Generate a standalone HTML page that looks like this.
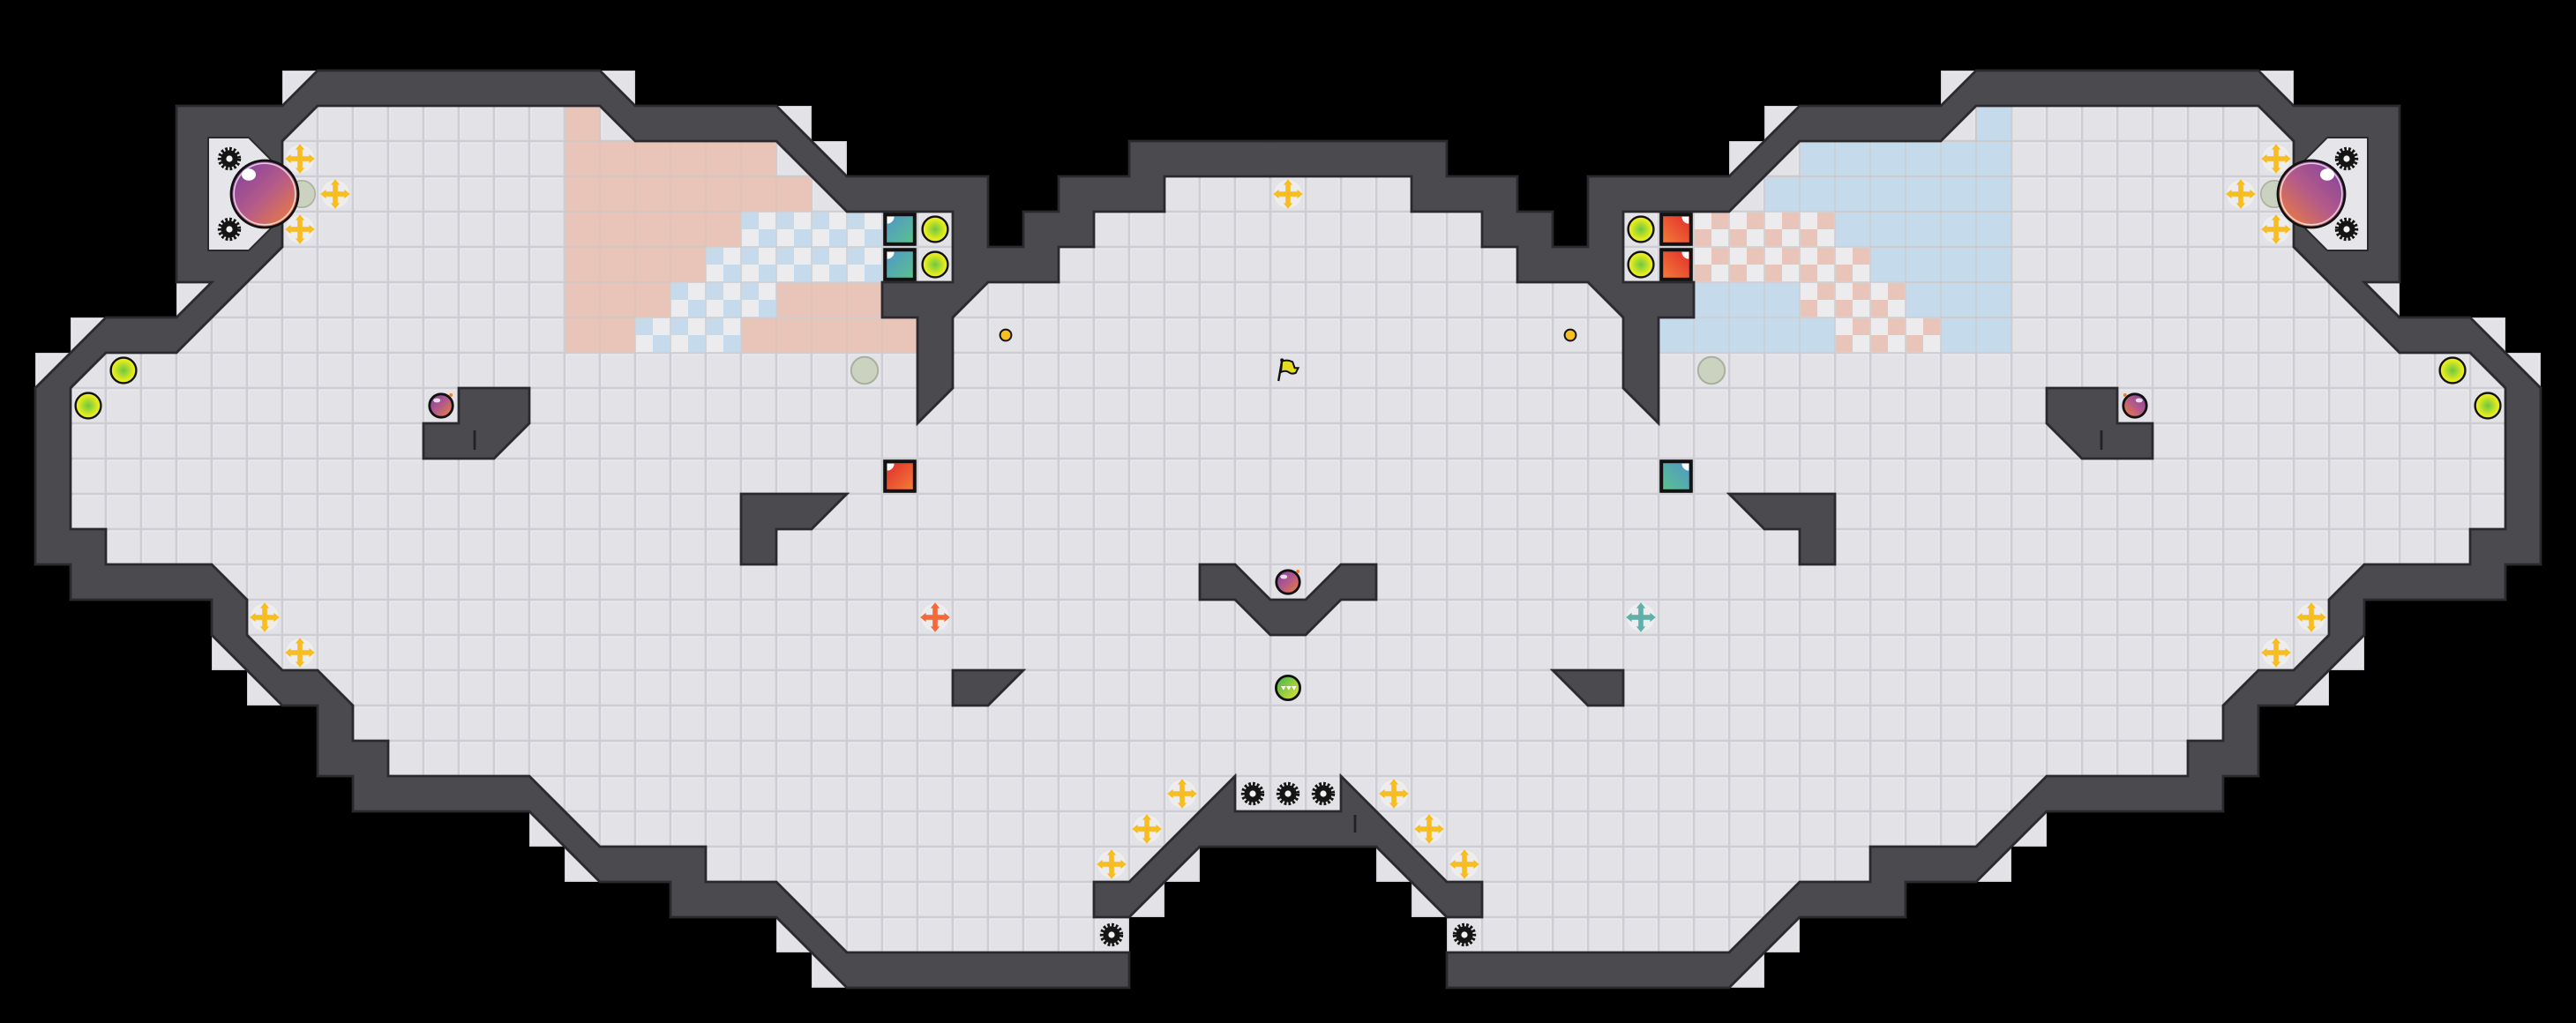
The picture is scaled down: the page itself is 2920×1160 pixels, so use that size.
<!DOCTYPE html>
<html><head><meta charset="utf-8">
<style>
html,body{margin:0;padding:0;background:#000;}
svg{display:block;}
.pk{fill:var(--pk);}
.bl{fill:var(--bl);}
.cA{fill:var(--cA);}
.cB{fill:var(--cB);}
.xc{color:var(--xc);}
</style></head>
<body>
<svg xmlns="http://www.w3.org/2000/svg" xmlns:xlink="http://www.w3.org/1999/xlink" width="2920" height="1160" viewBox="0 0 73 29">
<defs>
  <pattern id="grid" patternUnits="userSpaceOnUse" width="1" height="1">
    <rect width="1" height="1" fill="#cdcdd3"/>
    <rect x=".035" y=".035" width=".93" height=".93" fill="#f0f0f3"/>
    <rect x=".06" y=".06" width=".9" height=".9" fill="#e3e3e7"/>
  </pattern>
  <linearGradient id="gBall" x1="0" y1="0" x2="1" y2="1">
    <stop offset="0" stop-color="#7a3fa0"/><stop offset=".5" stop-color="#b45a8a"/><stop offset="1" stop-color="#f58230"/>
  </linearGradient>
  <radialGradient id="gYel" cx=".5" cy=".5" r=".5">
    <stop offset="0" stop-color="#6cc840"/><stop offset=".8" stop-color="#e6ec1e"/>
  </radialGradient>
  <linearGradient id="gTeal" x1="0" y1="0" x2="1" y2="1">
    <stop offset="0" stop-color="#4f94cc"/><stop offset="1" stop-color="#5cc48a"/>
  </linearGradient>
  <linearGradient id="gRed" x1="0" y1="0" x2="1" y2="1">
    <stop offset="0" stop-color="#e02a2a"/><stop offset="1" stop-color="#f5803a"/>
  </linearGradient>
  <linearGradient id="gGreen" x1="0" y1="0" x2="1" y2="1">
    <stop offset="0" stop-color="#3cb050"/><stop offset="1" stop-color="#e8e830"/>
  </linearGradient>
  <g id="gear">
    <circle r=".27" fill="none" stroke="#151515" stroke-width=".12" stroke-dasharray=".065 .05"/>
    <circle r=".24" fill="#151515"/>
    <circle r=".09" fill="#f2f2f2"/>
  </g>
  <g id="cross">
    <circle r=".4" fill="#ffffff" opacity=".35"/>
    <rect x="-.07" y="-.3" width=".14" height=".6" fill="currentColor"/>
    <rect x="-.3" y="-.07" width=".6" height=".14" fill="currentColor"/>
    <polygon points="0,-.42 -.13,-.26 .13,-.26" fill="currentColor"/>
    <polygon points="0,.42 -.13,.26 .13,.26" fill="currentColor"/>
    <polygon points="-.42,0 -.26,-.13 -.26,.13" fill="currentColor"/>
    <polygon points=".42,0 .26,-.13 .26,.13" fill="currentColor"/>
  </g>
  <g id="chk">
    <rect x=".02" y=".02" width=".96" height=".96" fill="#ececee"/>
    <rect class="bl" x=".02" y=".02" width=".48" height=".48"/>
    <rect class="bl" x=".5" y=".5" width=".48" height=".48"/>
  </g>
  <g id="ybal">
    <circle r=".36" fill="url(#gYel)" stroke="#111" stroke-width=".06"/>
  </g>
  <g id="bomb">
    <circle r=".33" fill="url(#gBall)" stroke="#111" stroke-width=".07"/>
    <ellipse cx="-.12" cy="-.15" rx=".1" ry=".06" fill="#fff" opacity=".8"/>
    <circle cx=".28" cy="-.3" r=".05" fill="#f08020"/>
  </g>
</defs>

<rect width="73" height="29" fill="#000"/>

<g style="--pk:#e8c5b8;--bl:#c5dbeb;--cA:url(#gTeal);--cB:url(#gRed);--xc:#f26a3a">
<g id="L">
  <polygon fill="url(#grid)" points="37,4 32,4 32,5 30,5 30,6 29,6 29,7 28,7 28,5 24,5 24,4 23,4 23,3 22,3 18,3 18,2 8,2 8,3 5,3 5,9 3,9 2,9 2,10 1,10 1,16 2,16 2,17 6,17 6,19 7,19 7,20 9,20 9,22 10,22 10,23 15,23 15,24 16,24 16,25 19,25 19,26 22,26 22,27 23,27 23,28 32,28 32,26 33,26 33,25 34,25 34,24 37,24"/>
  <g>
    <rect class="pk" x="16.02" y="3.02" width=".96" height=".96"/>
    <rect class="pk" x="16.02" y="4.02" width="5.96" height=".96"/>
    <rect class="pk" x="16.02" y="5.02" width="6.96" height=".96"/>
    <rect class="pk" x="16.02" y="6.02" width="4.96" height=".96"/>
    <rect class="pk" x="16.02" y="7.02" width="3.96" height=".96"/>
    <rect class="pk" x="16.02" y="8.02" width="2.96" height=".96"/>
    <rect class="pk" x="22.02" y="8.02" width="2.96" height=".96"/>
    <rect class="pk" x="16.02" y="9.02" width="1.96" height=".96"/>
    <rect class="pk" x="21.02" y="9.02" width="4.96" height=".96"/>
  </g>
  <g stroke="#d6c0b8" stroke-width=".03" fill="none" opacity=".6">
    <path d="M17,3V10 M18,4V9 M19,4V8 M20,4V7 M21,4V6 M22,5V6 M16,4H22 M16,5H23 M16,6H21 M16,7H20 M16,8H19 M16,9H18 M23,8V9 M24,8V9 M22,9V10 M23,9V10 M24,9V10 M25,9V10"/>
  </g>
  <use href="#chk" x="21" y="6"/><use href="#chk" x="22" y="6"/><use href="#chk" x="23" y="6"/><use href="#chk" x="24" y="6"/>
  <use href="#chk" x="20" y="7"/><use href="#chk" x="21" y="7"/><use href="#chk" x="22" y="7"/><use href="#chk" x="23" y="7"/><use href="#chk" x="24" y="7"/>
  <use href="#chk" x="19" y="8"/><use href="#chk" x="20" y="8"/><use href="#chk" x="21" y="8"/>
  <use href="#chk" x="18" y="9"/><use href="#chk" x="19" y="9"/><use href="#chk" x="20" y="9"/>

  <polygon fill="#4a4a4f" stroke="#2a2a2e" stroke-width=".07" stroke-linejoin="miter" points="32,28 24,28 22,26 19,26 19,25 17,25 15,23 10,23 10,22 9,22 9,20 8,20 6,18 6,17 2,17 2,16 1,16 1,11 3,9 5,9 6,8 5,8 5,3 8,3 9,2 17,2 18,3 22,3 24,5 28,5 28,7 29,7 29,6 30,6 30,5 32,5 32,4 37,4 37,5 33,5 33,6 31,6 31,7 30,7 30,8 28,8 27,9 27,11 26,12 26,9 25,9 25,8 27,8 27,6 24,6 22,4 18,4 17,3 9,3 8,4 8,7 5,10 3,10 2,11 2,15 3,15 3,16 6,16 7,17 7,18 8,19 9,19 10,20 10,21 11,21 11,22 15,22 17,24 20,24 20,25 22,25 24,27 32,27"/>
  <polygon fill="#e6e6ea" stroke="#2a2a2e" stroke-width=".05" points="5.9,3.9 7.05,3.9 7.75,4.6 7.75,6.4 7.05,7.1 5.9,7.1"/>
  <polygon fill="#4a4a4f" stroke="#2a2a2e" stroke-width=".07" points="13,11 15,11 15,12 14,13 12,13 12,12 13,12"/>
  <line x1="13.45" y1="12.2" x2="13.45" y2="12.75" stroke="#222" stroke-width=".07"/>
  <polygon fill="#4a4a4f" stroke="#2a2a2e" stroke-width=".07" points="21,14 24,14 23,15 22,15 22,16 21,16"/>
  <polygon fill="#4a4a4f" stroke="#2a2a2e" stroke-width=".07" points="27,19 29,19 28,20 27,20"/>

  <use href="#gear" x="6.5" y="4.5"/>
  <use href="#gear" x="6.5" y="6.5"/>
  <circle cx="8.55" cy="5.5" r=".38" fill="#cbd2bf" stroke="#aab09f" stroke-width=".04"/>
  <circle cx="7.5" cy="5.5" r=".95" fill="url(#gBall)" stroke="#111" stroke-width=".07"/>
  <circle cx="7.5" cy="5.5" r=".87" fill="none" stroke="#fff" stroke-width=".04" opacity=".7"/>
  <ellipse cx="7.05" cy="4.95" rx=".2" ry=".17" fill="#fff"/>
  <use href="#cross" x="8.5" y="4.5" style="color:#f7bd22"/>
  <use href="#cross" x="9.5" y="5.5" style="color:#f7bd22"/>
  <use href="#cross" x="8.5" y="6.5" style="color:#f7bd22"/>
  <use href="#ybal" x="3.5" y="10.5"/>
  <use href="#ybal" x="2.5" y="11.5"/>
  <use href="#bomb" x="12.5" y="11.5"/>
  <rect class="cA" x="25.08" y="6.08" width=".84" height=".84" stroke="#111" stroke-width=".1"/>
  <rect class="cA" x="25.08" y="7.08" width=".84" height=".84" stroke="#111" stroke-width=".1"/>
  <path d="M25.14,6.14h.2a.2.2 0 0 1 -.2,.2z M25.14,7.14h.2a.2.2 0 0 1 -.2,.2z" fill="#fff"/>
  <use href="#ybal" x="26.5" y="6.5"/>
  <use href="#ybal" x="26.5" y="7.5"/>
  <rect class="cB" x="25.08" y="13.08" width=".84" height=".84" stroke="#111" stroke-width=".1"/>
  <path d="M25.14,13.14h.2a.2.2 0 0 1 -.2,.2z" fill="#fff"/>
  <circle cx="24.5" cy="10.5" r=".38" fill="#cbd2bf" stroke="#aab09f" stroke-width=".05"/>
  <circle cx="28.5" cy="9.5" r=".16" fill="#f7c020" stroke="#111" stroke-width=".05"/>
  <use href="#cross" x="7.5" y="17.5" style="color:#f7bd22"/>
  <use href="#cross" x="8.5" y="18.5" style="color:#f7bd22"/>
  <use href="#cross" x="26.5" y="17.5" class="xc"/>
  <use href="#cross" x="33.5" y="22.5" style="color:#f7bd22"/>
  <use href="#cross" x="32.5" y="23.5" style="color:#f7bd22"/>
  <use href="#cross" x="31.5" y="24.5" style="color:#f7bd22"/>
  <use href="#gear" x="31.5" y="26.5"/>
</g>
</g>
<use href="#L" transform="translate(73,0) scale(-1,1)" style="--pk:#c5dbeb;--bl:#e8c5b8;--cA:url(#gRed);--cB:url(#gTeal);--xc:#5fb0a8"/>

<!-- seam cover -->
<rect x="35.5" y="4.04" width="2" height=".92" fill="#4a4a4f"/>

<polygon fill="#4a4a4f" stroke="#2a2a2e" stroke-width=".07" points="34,16 35,16 36,17 37,17 38,16 39,16 39,17 38,17 37,18 36,18 35,17 34,17"/>
<polygon fill="#4a4a4f" stroke="#2a2a2e" stroke-width=".07" points="31,25 32,25 35,22 35,23 38,23 38,22 41,25 42,25 42,26 41,26 39,24 34,24 32,26 31,26"/>
<line x1="38.4" y1="23.1" x2="38.4" y2="23.6" stroke="#222" stroke-width=".07"/>
<use href="#gear" x="35.5" y="22.5"/>
<use href="#gear" x="36.5" y="22.5"/>
<use href="#gear" x="37.5" y="22.5"/>
<use href="#cross" x="36.5" y="5.5" style="color:#f7bd22"/>
<use href="#bomb" x="36.5" y="16.5"/>
<circle cx="36.5" cy="19.5" r=".34" fill="url(#gGreen)" stroke="#111" stroke-width=".07"/>
<path d="M36.3,19.45 l.07,.12 l.07,-.12z M36.45,19.45 l.07,.12 l.07,-.12z M36.6,19.45 l.07,.12 l.07,-.12z" fill="#fff"/>
<g transform="translate(36.5,10.5)">
  <line x1="-.17" y1="-.28" x2="-.27" y2=".3" stroke="#111" stroke-width=".06"/>
  <path d="M-.17,-.26 q.15,-.06 .3,.02 l.06,.17 l.1,0 l-.07,.14 q-.12,.05 -.2,-.02 q-.1,-.06 -.22,0z" fill="#e8dc20" stroke="#111" stroke-width=".05"/>
  <circle cx="-.17" cy="-.29" r=".05" fill="#111"/>
</g>
</svg>
</body></html>
